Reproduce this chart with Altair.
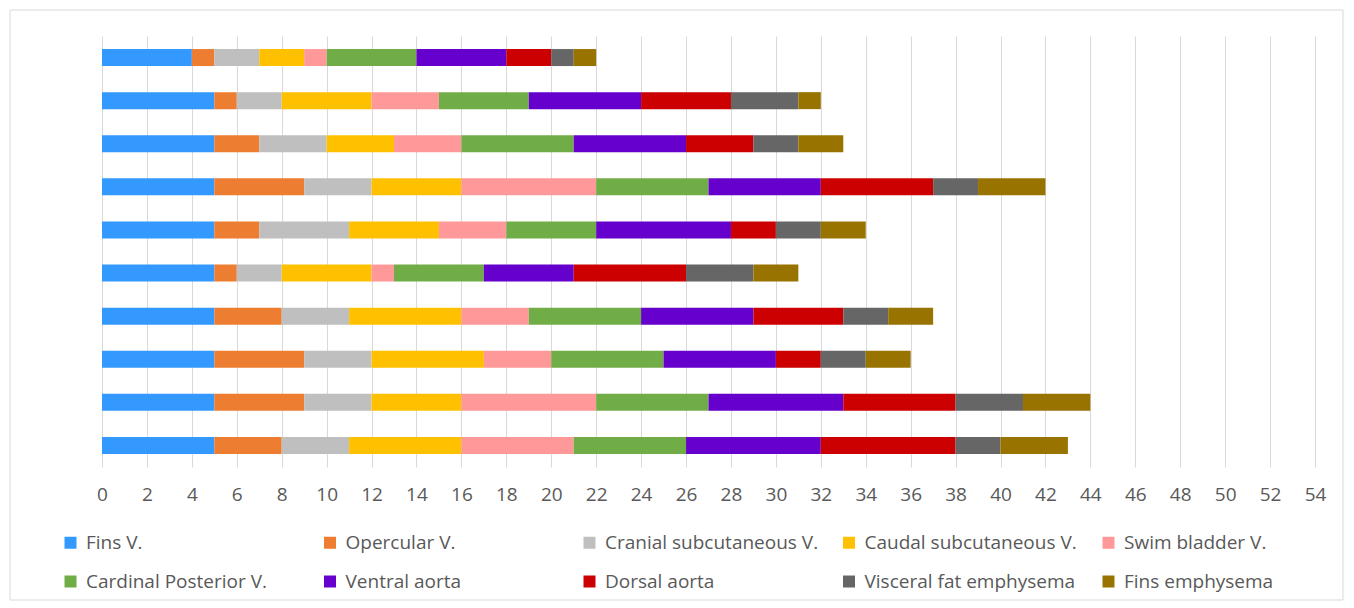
import altair as alt
import pandas as pd

rows = [f"R{i}" for i in range(1, 11)]  # top to bottom

categories = [
    "Fins V.", "Opercular V.", "Cranial subcutaneous V.", "Caudal subcutaneous V.",
    "Swim bladder V.", "Cardinal Posterior V.", "Ventral aorta", "Dorsal aorta",
    "Visceral fat emphysema", "Fins emphysema",
]
colors = [
    "#3399FF", "#ED7D31", "#BFBFBF", "#FFC000", "#FF9999",
    "#70AD47", "#6600CC", "#CC0000", "#666666", "#997300",
]

fins_v = [4, 5, 5, 5, 5, 5, 5, 5, 5, 5]
opercular_v = [1, 1, 2, 4, 2, 1, 3, 4, 4, 3]
cranial_v = [2, 2, 3, 3, 4, 2, 3, 3, 3, 3]
caudal_v = [2, 4, 3, 4, 4, 4, 5, 5, 4, 5]
swim_v = [1, 3, 3, 6, 3, 1, 3, 3, 6, 5]
cardinal_v = [4, 4, 5, 5, 4, 4, 5, 5, 5, 5]
ventral_aorta = [4, 5, 5, 5, 6, 4, 5, 5, 6, 6]
dorsal_aorta = [2, 4, 3, 5, 2, 5, 4, 2, 5, 6]
visceral_emph = [1, 3, 2, 2, 2, 3, 2, 2, 3, 2]
fins_emph = [1, 1, 2, 3, 2, 2, 2, 2, 3, 3]

series = [fins_v, opercular_v, cranial_v, caudal_v, swim_v, cardinal_v,
          ventral_aorta, dorsal_aorta, visceral_emph, fins_emph]

x_ticks = list(range(0, 55, 2))

records = []
for ci, (cat, vals) in enumerate(zip(categories, series)):
    for r, v in zip(rows, vals):
        records.append({"row": r, "category": cat, "value": v, "order": ci})
df = pd.DataFrame(records)

bars = alt.Chart(df).mark_bar(size=17).encode(
    x=alt.X(
        "value:Q", stack="zero",
        scale=alt.Scale(domain=[0, 54], nice=False, zero=True),
        axis=alt.Axis(values=x_ticks, grid=True, gridColor="#d9d9d9", gridWidth=1,
                      ticks=False, domain=False, labelFontSize=19, labelColor="#595959",
                      labelFont="Open Sans", labelPadding=18, labelFlush=False,
                      labelOverlap=False, title=None),
    ),
    y=alt.Y("row:N", sort=rows, axis=None,
            scale=alt.Scale(paddingInner=0, paddingOuter=0)),
    color=alt.Color(
        "category:N",
        scale=alt.Scale(domain=categories, range=colors),
        legend=alt.Legend(
            orient="none", legendX=-41, legendY=497, direction="horizontal",
            columns=5, symbolType="square", symbolSize=144, symbolStrokeWidth=0,
            labelFontSize=19, labelFont="Open Sans", labelColor="#595959",
            columnPadding=20.5, rowPadding=19, gridAlign="all", title=None,
            labelLimit=400, labelOffset=6, padding=0,
        ),
    ),
    order=alt.Order("order:Q"),
)

frame = alt.Chart(pd.DataFrame({"a": [0]})).mark_rect(
    fill=None, stroke="#d9d9d9", strokeWidth=1
).encode(
    x=alt.value(-92), x2=alt.value(1241), y=alt.value(-26), y2=alt.value(564)
)

chart = alt.layer(frame, bars).properties(
    width=1213, height=431,
    padding={"left": 102, "top": 36, "right": 39, "bottom": 141},
    autosize=alt.AutoSizeParams(type="none"),
    background="white",
).configure_view(stroke=None)

chart.save("out.html", embed_options={"renderer": "svg", "actions": False})
